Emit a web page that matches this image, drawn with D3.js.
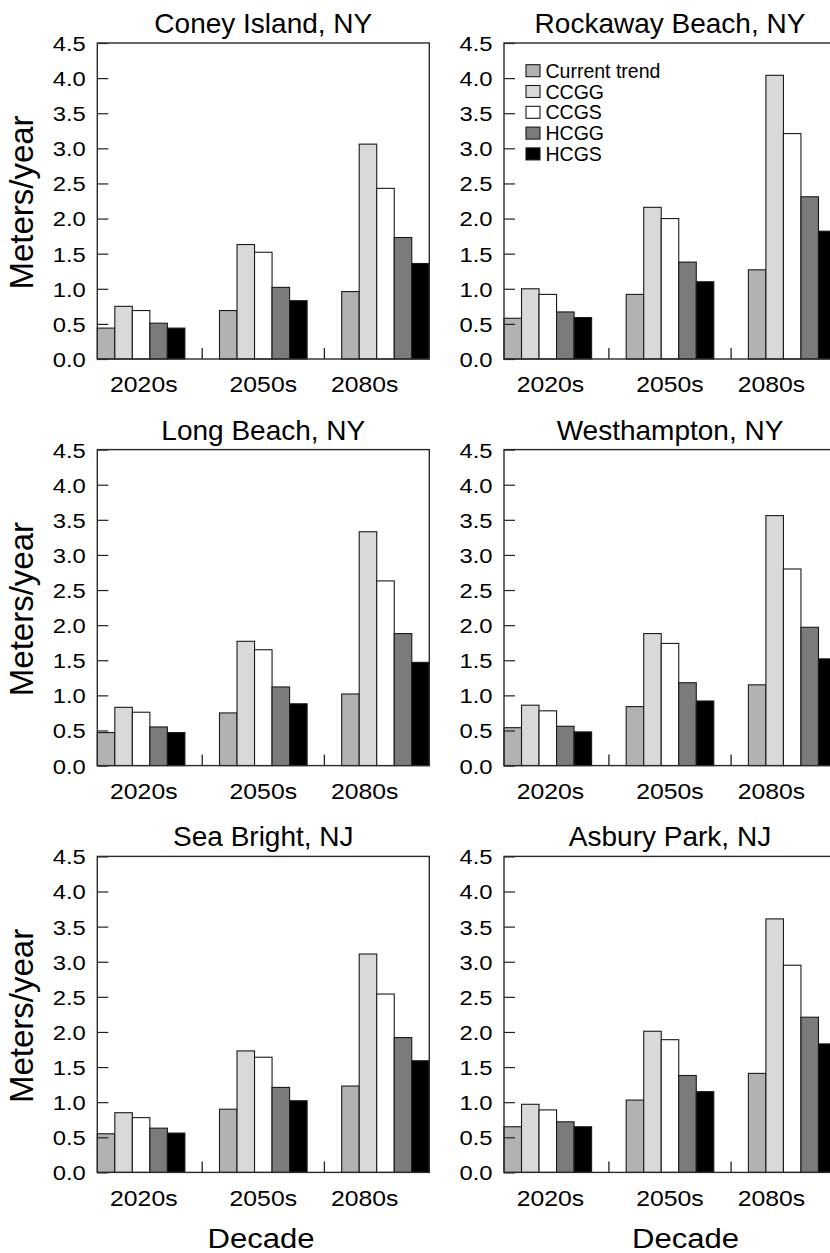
<!DOCTYPE html>
<html>
<head>
<meta charset="utf-8">
<script src="https://cdn.jsdelivr.net/npm/d3@7"></script>
<style>
  html, body { margin: 0; padding: 0; background: #fff; overflow: hidden; }
  svg { display: block; }
  text { font-family: "Liberation Sans", Arial, Helvetica, sans-serif; fill: #000; }
</style>
</head>
<body>
<svg id="chart" width="830" height="1253"></svg>
<script>
// ---------------- DATA ----------------
const sites = ["Coney Island, NY", "Rockaway Beach, NY", "Long Beach, NY", "Westhampton, NY", "Sea Bright, NJ", "Asbury Park, NJ"];
const decades = ["2020s", "2050s", "2080s"];
const scenarios = ["Current trend", "CCGG", "CCGS", "HCGG", "HCGS"];
const yTicks = [0, 0.5, 1.0, 1.5, 2.0, 2.5, 3.0, 3.5, 4.0, 4.5];

// values[decade][scenario] in meters/year
const coneyIsland   = [[0.44, 0.75, 0.69, 0.51, 0.44], [0.69, 1.63, 1.52, 1.02, 0.83], [0.96, 3.06, 2.43, 1.73, 1.36]];
const rockawayBeach = [[0.58, 1.00, 0.92, 0.67, 0.59], [0.92, 2.16, 2.00, 1.38, 1.10], [1.27, 4.04, 3.21, 2.31, 1.82]];
const longBeach     = [[0.47, 0.83, 0.76, 0.55, 0.47], [0.75, 1.77, 1.65, 1.12, 0.88], [1.02, 3.33, 2.63, 1.88, 1.47]];
const westhampton   = [[0.54, 0.86, 0.78, 0.56, 0.48], [0.84, 1.88, 1.74, 1.18, 0.92], [1.15, 3.56, 2.80, 1.97, 1.52]];
const seaBright     = [[0.55, 0.85, 0.78, 0.63, 0.56], [0.90, 1.73, 1.64, 1.21, 1.02], [1.23, 3.11, 2.54, 1.92, 1.59]];
const asburyPark    = [[0.65, 0.97, 0.89, 0.72, 0.65], [1.03, 2.01, 1.89, 1.38, 1.15], [1.41, 3.61, 2.95, 2.21, 1.83]];
const siteValues = [coneyIsland, rockawayBeach, longBeach, westhampton, seaBright, asburyPark];

// ---------------- STYLE / LAYOUT ----------------
const colors = ["#b2b2b2", "#d9d9d9", "#ffffff", "#7b7b7b", "#000000"];
const panelLeft = [97.3, 504];
const rowTop = [43, 449.6, 856.4];
const W = 332, H = 316;
const decadeLabelDx = [2.7, 0, -20.8];
const xTitleX = [261, 685.5];

const svg = d3.select("#chart");

const x0 = d3.scaleBand().domain(decades).range([0, W]).paddingInner(0.283).paddingOuter(0);
const x1 = d3.scaleBand().domain(scenarios).range([0, x0.bandwidth()]).padding(0);
const y = d3.scaleLinear().domain([0, 4.5]).range([H, 0]);
const color = d3.scaleOrdinal().domain(scenarios).range(colors);

siteValues.forEach((vals, i) => {
  const col = i % 2, row = Math.floor(i / 2);
  const g = svg.append("g").attr("transform", `translate(${panelLeft[col]},${rowTop[row]})`);

  // bars
  const groups = g.selectAll("g.grp").data(decades).join("g")
    .attr("class", "grp")
    .attr("transform", d => `translate(${x0(d)},0)`);
  groups.selectAll("rect").data((d, di) => scenarios.map((s, si) => ({ s, v: vals[di][si] }))).join("rect")
    .attr("x", d => x1(d.s))
    .attr("y", d => y(d.v))
    .attr("width", x1.bandwidth())
    .attr("height", d => H - y(d.v))
    .attr("fill", d => color(d.s))
    .attr("stroke", "#1a1a1a")
    .attr("stroke-width", 1.1);

  // y axis with inward ticks
  const ya = g.append("g").call(d3.axisLeft(y).tickValues(yTicks).tickSize(-11).tickPadding(11.5).tickFormat(d3.format(".1f")));
  ya.select(".domain").remove();
  ya.selectAll(".tick line").attr("stroke", "#222").attr("stroke-width", 1.2);
  ya.attr("font-family", null).attr("font-size", null);
  ya.selectAll(".tick text")
    .attr("x", null).attr("dy", null)
    .attr("fill", "#000")
    .style("font-size", "20px")
    .attr("transform", "translate(-11.5,7.4) scale(1.19,1)");

  // x separators (inward ticks between groups)
  const seps = decades.slice(0, -1).map(d => x0(d) + x0.bandwidth() + x0.step() * x0.paddingInner() / 2);
  g.selectAll("line.sep").data(seps).join("line")
    .attr("class", "sep")
    .attr("x1", d => d).attr("x2", d => d)
    .attr("y1", H).attr("y2", H - 11)
    .attr("stroke", "#222").attr("stroke-width", 1.3);

  // x labels
  g.selectAll("text.xl").data(decades).join("text")
    .attr("class", "xl")
    .attr("text-anchor", "middle")
    .style("font-size", "22.5px")
    .attr("transform", (d, di) => `translate(${x0(d) + x0.bandwidth() / 2 + decadeLabelDx[di]},${H + 33.4}) scale(1.1,1)`)
    .text(d => d);

  // frame
  g.append("rect").attr("x", 0).attr("y", 0).attr("width", W).attr("height", H)
    .attr("fill", "none").attr("stroke", "#2a2a2a").attr("stroke-width", 1.4);

  // title
  g.append("text")
    .attr("x", W / 2).attr("y", -10)
    .attr("text-anchor", "middle")
    .style("font-size", "28px")
    .text(sites[i]);

  // y axis title on left column
  if (col === 0) {
    g.append("text")
      .attr("transform", `translate(${33 - panelLeft[0]},${H / 2 + 1.5}) rotate(-90)`)
      .attr("text-anchor", "middle")
      .style("font-size", "33px")
      .text("Meters/year");
  }

  // x axis title on bottom row
  if (row === 2) {
    g.append("text")
      .attr("text-anchor", "middle")
      .style("font-size", "28px")
      .attr("transform", `translate(${xTitleX[col] - panelLeft[col]},${H + 75.7}) scale(1.11,1)`)
      .text("Decade");
  }

  // legend in Rockaway Beach panel
  if (i === 1) {
    const lg = g.append("g").attr("transform", "translate(22,27.7)");
    const items = lg.selectAll("g").data(scenarios).join("g")
      .attr("transform", (d, k) => `translate(0,${k * 20.8})`);
    items.append("rect")
      .attr("x", 0).attr("y", -6).attr("width", 14).attr("height", 12)
      .attr("fill", d => color(d)).attr("stroke", "#1a1a1a").attr("stroke-width", 1.1);
    items.append("text")
      .attr("x", 19.5).attr("y", 7)
      .style("font-size", "19.5px")
      .text(d => d);
  }
});
</script>
</body>
</html>
